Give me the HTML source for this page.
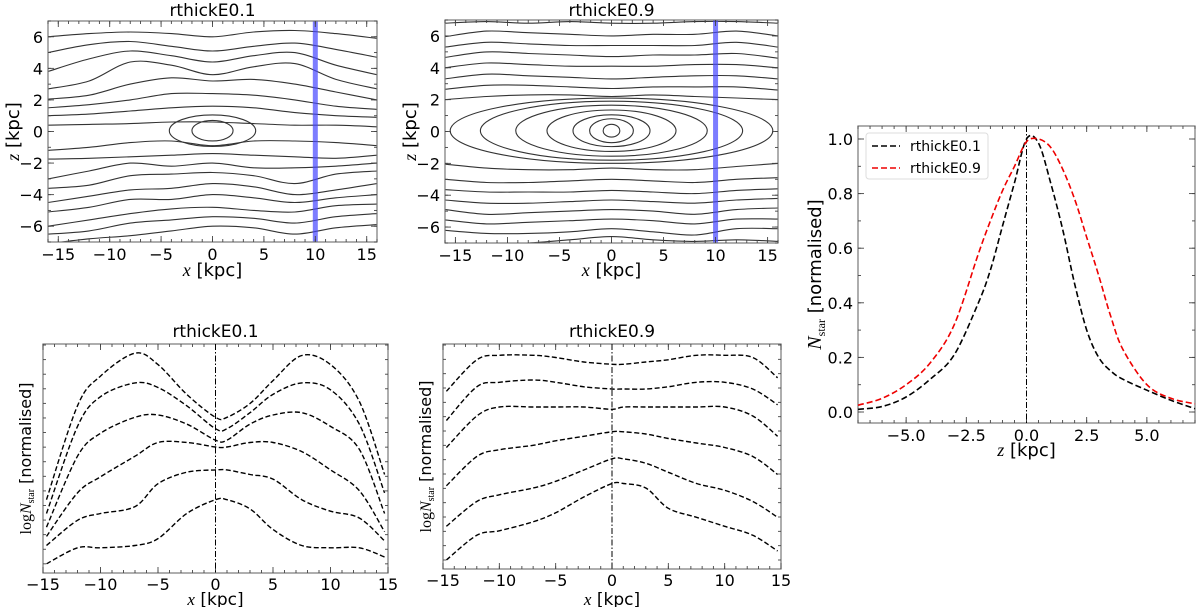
<!DOCTYPE html>
<html><head><meta charset="utf-8">
<style>
html,body{margin:0;padding:0;background:#fff;}
svg{display:block;font-family:"DejaVu Sans","Liberation Sans",sans-serif;}
</style></head>
<body>
<svg id="fig" width="1200" height="607" viewBox="0 0 1200 607" xmlns="http://www.w3.org/2000/svg"></svg>
<script>
// ---------- DATA ----------
const contourX = [-16,-12,-8,-4,0,4,8,12,16];
const contours1 = [
 [6.0,6.2,6.3,6.2,6.0,6.3,6.4,6.2,5.9],
 [5.0,5.5,5.7,5.4,5.1,5.4,5.6,5.2,4.7],
 [3.8,4.6,5.1,4.8,4.4,4.8,5.0,4.2,3.6],
 [2.7,3.2,4.4,4.2,3.6,4.1,4.3,3.3,2.7],
 [2.05,2.3,3.0,3.4,3.2,3.3,3.0,2.5,2.0],
 [1.5,1.7,2.0,2.4,2.4,2.3,2.0,1.6,1.4],
 [1.0,1.1,1.3,1.5,1.6,1.5,1.2,1.0,0.9],
 [0.4,0.45,0.5,0.6,0.6,0.5,0.4,0.4,0.3],
 [-1.2,-1.0,-0.7,-0.6,-0.9,-0.6,-0.6,-0.7,-0.9],
 [-1.75,-1.7,-1.6,-1.5,-1.4,-1.5,-1.6,-1.7,-1.5],
 [-3.0,-2.5,-2.0,-2.2,-2.0,-2.3,-2.3,-2.2,-2.0],
 [-3.6,-3.4,-2.8,-2.7,-2.6,-2.8,-3.3,-2.7,-2.5],
 [-4.5,-4.1,-3.7,-3.6,-3.3,-3.5,-4.0,-3.7,-3.3],
 [-5.1,-4.8,-4.3,-4.3,-4.0,-4.2,-4.5,-4.2,-4.0],
 [-6.0,-5.6,-5.2,-4.9,-4.8,-5.0,-5.1,-4.7,-4.6],
 [-6.5,-6.3,-5.8,-5.6,-5.4,-5.5,-5.8,-5.4,-5.2],
 [-7.1,-6.8,-6.6,-6.3,-6.0,-6.1,-6.5,-6.1,-5.9]
];
const ellipses1 = [[2.0,0.65],[4.2,1.0]];
const contours2 = [
 [6.8,6.9,6.8,6.9,6.8,6.8,6.9,6.9,6.8],
 [5.95,6.3,6.2,6.1,6.0,6.1,6.1,6.3,6.0],
 [5.3,5.6,5.5,5.4,5.4,5.4,5.4,5.6,5.3],
 [4.65,5.0,4.9,4.8,4.7,4.8,4.8,4.9,4.6],
 [4.0,4.3,4.2,4.1,4.1,4.1,4.2,4.2,4.0],
 [3.3,3.6,3.5,3.4,3.3,3.4,3.5,3.5,3.3],
 [2.65,2.9,2.9,2.8,2.7,2.8,2.8,2.8,2.6],
 [2.0,2.2,2.3,2.3,2.2,2.3,2.2,2.1,2.0],
 [-2.05,-2.3,-2.4,-2.4,-2.3,-2.4,-2.4,-2.2,-2.0],
 [-3.0,-3.2,-3.2,-3.1,-3.0,-3.1,-3.2,-3.0,-2.9],
 [-3.65,-3.8,-3.8,-3.8,-3.7,-3.8,-3.9,-3.7,-3.6],
 [-4.3,-4.5,-4.5,-4.4,-4.3,-4.4,-4.5,-4.3,-4.2],
 [-4.9,-5.2,-5.1,-5.0,-4.9,-5.0,-5.2,-4.9,-4.8],
 [-5.55,-5.8,-5.7,-5.6,-5.5,-5.6,-5.8,-5.5,-5.5],
 [-6.2,-6.4,-6.4,-6.3,-6.1,-6.3,-6.5,-6.1,-6.1],
 [-7.1,-7.1,-7.0,-6.8,-6.6,-6.8,-6.9,-6.8,-6.9]
];
const ellipses2 = [[0.8,0.4],[2.1,0.75],[3.7,1.0],[6.2,1.3],[9.2,1.6],[12.6,1.85],[15.5,2.05]];
const slitX = 10;

const profX = [-14.7,-12,-10,-7,-5,-2.5,0,1,3,5,7.5,10,12.5,14.7];
const prof1 = [
 [0.32,0.73,0.86,0.96,0.91,0.78,0.68,0.68,0.74,0.84,0.95,0.91,0.75,0.43],
 [0.26,0.64,0.77,0.83,0.81,0.73,0.63,0.63,0.70,0.78,0.83,0.80,0.65,0.35],
 [0.20,0.51,0.61,0.68,0.69,0.65,0.58,0.58,0.65,0.69,0.70,0.64,0.54,0.26],
 [0.16,0.35,0.42,0.51,0.57,0.57,0.55,0.55,0.57,0.57,0.53,0.45,0.36,0.18],
 [0.12,0.23,0.26,0.29,0.39,0.44,0.45,0.45,0.43,0.41,0.32,0.27,0.24,0.14],
 [0.04,0.11,0.11,0.12,0.15,0.26,0.32,0.32,0.28,0.19,0.12,0.11,0.11,0.07]
];
const prof2 = [
 [0.79,0.93,0.95,0.95,0.94,0.92,0.91,0.91,0.92,0.93,0.95,0.95,0.94,0.85],
 [0.66,0.81,0.83,0.84,0.83,0.81,0.80,0.80,0.80,0.81,0.83,0.83,0.80,0.73],
 [0.54,0.68,0.72,0.72,0.72,0.72,0.71,0.72,0.72,0.72,0.72,0.72,0.68,0.59],
 [0.37,0.50,0.53,0.55,0.57,0.59,0.61,0.61,0.60,0.58,0.56,0.54,0.50,0.42],
 [0.19,0.30,0.33,0.36,0.39,0.44,0.49,0.49,0.47,0.43,0.38,0.35,0.30,0.23],
 [0.04,0.15,0.17,0.21,0.25,0.32,0.38,0.38,0.36,0.27,0.23,0.19,0.15,0.08]
];

const vertZ = [-7,-6,-5,-4,-3,-2,-1.5,-1,-0.5,0,0.5,1,1.5,2,2.5,3,3.5,4,5,6,7];
const vertE01 = [0.01,0.02,0.055,0.12,0.21,0.40,0.52,0.68,0.84,1.0,0.985,0.84,0.67,0.47,0.30,0.20,0.15,0.12,0.08,0.043,0.012];
const vertE09 = [0.025,0.05,0.10,0.18,0.32,0.58,0.70,0.81,0.90,0.99,1.0,0.97,0.89,0.78,0.64,0.50,0.35,0.23,0.10,0.05,0.03];
const rightXTicks = ["−5.0","−2.5","0.0","2.5","5.0"];
const rightXTickVals = [-5,-2.5,0,2.5,5];
const rightYTickVals = [0,0.2,0.4,0.6,0.8,1.0];
const rightYTicks = ["0.0","0.2","0.4","0.6","0.8","1.0"];
const legendLabels = ["rthickE0.1","rthickE0.9"];

// ---------- DRAWING ----------
const NS="http://www.w3.org/2000/svg";
const svg=document.getElementById('fig');
function mk(tag,attrs,parent){const e=document.createElementNS(NS,tag);for(const k in attrs)e.setAttribute(k,attrs[k]);(parent||svg).appendChild(e);return e;}
function txt(s,x,y,size,anchor,parent,name){const t=mk('text',{x:x,y:y,'font-size':size,'text-anchor':anchor||'middle',fill:'#000'},parent);t.textContent=s;
 
 
 return t;}
function smoothPath(pts){let d='M'+pts[0][0].toFixed(1)+','+pts[0][1].toFixed(1);
 for(let i=0;i<pts.length-1;i++){const p0=pts[Math.max(0,i-1)],p1=pts[i],p2=pts[i+1],p3=pts[Math.min(pts.length-1,i+2)];
  const c1=[p1[0]+(p2[0]-p0[0])/6,p1[1]+(p2[1]-p0[1])/6],c2=[p2[0]-(p3[0]-p1[0])/6,p2[1]-(p3[1]-p1[1])/6];
  d+=' C'+c1[0].toFixed(1)+','+c1[1].toFixed(1)+' '+c2[0].toFixed(1)+','+c2[1].toFixed(1)+' '+p2[0].toFixed(1)+','+p2[1].toFixed(1);}
 return d;}
function axesBox(g,L,T,R,B){mk('rect',{x:L,y:T,width:R-L,height:B-T,fill:'none',stroke:'#777','stroke-width':1.2},g);}
function ticks(g,L,T,R,B,sx,sy,xmaj,xmin,ymaj,ymin){
 const tk=(x1,y1,x2,y2)=>mk('line',{x1:x1,y1:y1,x2:x2,y2:y2,stroke:'#444','stroke-width':0.9},g);
 xmin.forEach(v=>{const x=sx(v);tk(x,B,x,B-3);tk(x,T,x,T+3);});
 xmaj.forEach(v=>{const x=sx(v);tk(x,B,x,B-6);tk(x,T,x,T+6);});
 ymin.forEach(v=>{const y=sy(v);tk(L,y,L+3,y);tk(R,y,R-3,y);});
 ymaj.forEach(v=>{const y=sy(v);tk(L,y,L+6,y);tk(R,y,R-6,y);});}
function range(a,b,s){const r=[];for(let v=a;v<=b+1e-9;v+=s)r.push(+v.toFixed(4));return r;}
function fmt(v){return (v<0?'−':'')+Math.abs(v);}

function contourPanel(name,L,T,R,B,title,contours,ellipses){
 const g=mk('g',{},svg);
 
 
 const sx=v=>L+(v+16)/32*(R-L), sy=v=>B-(v+7)/14*(B-T);
 const cid=name+'-clip';
 const cp=mk('clipPath',{id:cid},g);mk('rect',{x:L,y:T,width:R-L,height:B-T},cp);
 const pg=mk('g',{'clip-path':'url(#'+cid+')'},g);
 contours.forEach(c=>{const p=mk('path',{d:smoothPath(contourX.map((x,i)=>[sx(x),sy(c[i])])),fill:'none',stroke:'#333','stroke-width':1.1},pg);
  
  });
 ellipses.forEach(e=>{const el=mk('ellipse',{cx:sx(0),cy:sy(0.05),rx:sx(e[0])-sx(0),ry:sy(0)-sy(e[1]),fill:'none',stroke:'#333','stroke-width':1.1},pg);
  
  });
 const bar=mk('rect',{x:sx(slitX)-2.5,y:T,width:5,height:B-T,fill:'rgba(70,70,255,0.7)'},pg);
 
 
 axesBox(g,L,T,R,B);
 ticks(g,L,T,R,B,sx,sy,range(-15,15,5),range(-16,16,1),range(-6,6,2),range(-7,7,1));
 range(-15,15,5).forEach(v=>txt(fmt(v),sx(v),B+18,16,'middle',g,'x-tick-label'));
 range(-6,6,2).forEach(v=>txt(fmt(v),L-5,sy(v)+6,16,'end',g,'y-tick-label'));
 txt(title,(L+R)/2,16,17,'middle',g,'panel-title');
 const xl=txt('',(L+R)/2,276,18,'middle',g,'x-axis-title');xl.innerHTML='<tspan font-family="Liberation Serif" font-style="italic">x</tspan> [kpc]';
 const yl=txt('',0,0,18,'middle',g,'y-axis-title');yl.setAttribute('transform','translate('+(L-29)+','+((T+B)/2)+') rotate(-90)');
 yl.innerHTML='<tspan font-family="Liberation Serif" font-style="italic">z</tspan> [kpc]';
}
contourPanel('contour-panel-e01',48,21,377,242,'rthickE0.1',contours1,ellipses1);
contourPanel('contour-panel-e09',445,20,778,243,'rthickE0.9',contours2,ellipses2);

function profPanel(name,L,T,R,B,title,profs){
 const g=mk('g',{},svg);
 
 
 const sx=v=>L+(v+15)/30*(R-L), sy=v=>B-v*(B-T);
 axesBox(g,L,T,R,B);
 ticks(g,L,T,R,B,sx,sy,range(-15,15,5),range(-15,15,1),[],range(0.04,1,0.0637));
 mk('line',{x1:sx(0),y1:T,x2:sx(0),y2:B,stroke:'#000','stroke-width':1,'stroke-dasharray':'6,2,1.5,2'},g);
 profs.forEach(p=>{const l=mk('path',{d:smoothPath(profX.map((x,i)=>[sx(x),sy(p[i])])),fill:'none',stroke:'#000','stroke-width':1.4,'stroke-dasharray':'5,2.5'},g);
  
  });
 range(-15,15,5).forEach(v=>txt(fmt(v),sx(v),B+17,16,'middle',g,'x-tick-label'));
 txt(title,(L+R)/2,337,17,'middle',g,'panel-title');
 const xl=txt('',(L+R)/2,605,17,'middle',g,'x-axis-title');xl.innerHTML='<tspan font-family="Liberation Serif" font-style="italic">x</tspan> [kpc]';
 const yl=txt('',0,0,16,'middle',g,'y-axis-title');yl.setAttribute('transform','translate('+(L-12)+','+((T+B)/2)+') rotate(-90)');
 yl.innerHTML='<tspan font-family="Liberation Serif">log</tspan><tspan font-family="Liberation Serif" font-style="italic">N</tspan><tspan font-family="Liberation Serif" font-size="10" dy="3">star</tspan><tspan dy="-3"> [normalised]</tspan>';
}
profPanel('profile-panel-e01',43,344,388,573,'rthickE0.1',prof1);
profPanel('profile-panel-e09',443,344,781,569,'rthickE0.9',prof2);

(function(){
 const L=858,T=126,R=1195,B=423;
 const g=mk('g',{},svg);
 
 
 const sx=v=>L+(v+7)/14*(R-L), sy=v=>139+(1-v)*273;
 axesBox(g,L,T,R,B);
 ticks(g,L,T,R,B,sx,sy,rightXTickVals,range(-7,7,0.5),rightYTickVals,range(0,1,0.1));
 mk('line',{x1:sx(0),y1:T,x2:sx(0),y2:B,stroke:'#000','stroke-width':1,'stroke-dasharray':'6,2,1.5,2'},g);
 const a=mk('path',{d:smoothPath(vertZ.map((z,i)=>[sx(z),sy(vertE01[i])])),fill:'none',stroke:'#000','stroke-width':1.6,'stroke-dasharray':'6,3'},g);
 
 
 const b=mk('path',{d:smoothPath(vertZ.map((z,i)=>[sx(z),sy(vertE09[i])])),fill:'none',stroke:'#e00','stroke-width':1.6,'stroke-dasharray':'6,3'},g);
 
 
 rightXTickVals.forEach((v,i)=>txt(rightXTicks[i],sx(v),B+18,16,'middle',g,'x-tick-label'));
 rightYTickVals.forEach((v,i)=>txt(rightYTicks[i],L-5,sy(v)+6,16,'end',g,'y-tick-label'));
 const xl=txt('',(L+R)/2,456,18,'middle',g,'x-axis-title');xl.innerHTML='<tspan font-family="Liberation Serif" font-style="italic">z</tspan> [kpc]';
 const yl=txt('',0,0,18,'middle',g,'y-axis-title');yl.setAttribute('transform','translate('+(L-37)+','+((T+B)/2)+') rotate(-90)');
 yl.innerHTML='<tspan font-family="Liberation Serif" font-style="italic" font-size="20">N</tspan><tspan font-family="Liberation Serif" font-size="12" dy="4">star</tspan><tspan dy="-4"> [normalised]</tspan>';
 const lg=mk('g',{},g);
 
 
 mk('rect',{x:866,y:133,width:122,height:46,rx:3,fill:'#fff',stroke:'#ddd','stroke-width':1},lg);
 const cols=['#000','#e00'];
 legendLabels.forEach((s,i)=>{const y=146+i*22;
  const ln=mk('line',{x1:872,y1:y,x2:900,y2:y,stroke:cols[i],'stroke-width':1.6,'stroke-dasharray':'6,3'},lg);
  
  
  txt(s,910,y+5,14,'start',lg,'legend-entry');});
})();
</script>
</body></html>
